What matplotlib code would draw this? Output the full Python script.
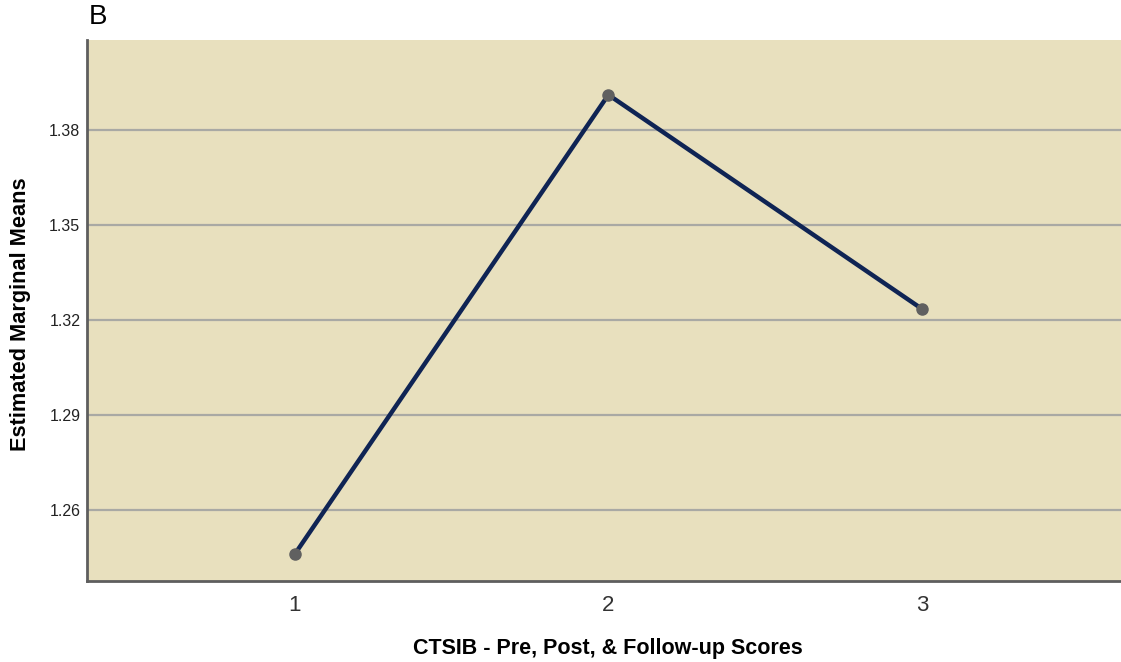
import numpy as np
import matplotlib.pyplot as plt

plt.rcParams['font.family'] = ['Liberation Sans', 'DejaVu Sans']

# estimated marginal means for the three CTSIB time points
timepoints = [1, 2, 3]
emm = [1.2461, 1.3911, 1.3235]
yticks = [1.26, 1.29, 1.32, 1.35, 1.38]

fig = plt.figure(figsize=(11.21, 6.62), dpi=100)
ax = fig.add_axes([0.0776, 0.1224, 0.9224, 0.8172])
ax.set_facecolor('#E8E0BE')

ax.set_yticks(yticks)
ax.set_yticklabels(['{:.2f}'.format(v) for v in yticks])
ax.set_ylim(1.2376, 1.4084)
ax.set_xticks(timepoints)
ax.set_xlim(0.337, 3.635)
ax.grid(axis='y', color='#A9A9A4', linewidth=1.6)
ax.set_axisbelow(True)

ax.plot(timepoints, emm, color='#0F2454', linewidth=3.2, zorder=3)
ax.plot(timepoints, emm, linestyle='none', marker='o', markersize=8,
        color='#606060', zorder=4)

for side in ['top', 'right']:
    ax.spines[side].set_visible(False)
for side in ['left', 'bottom']:
    ax.spines[side].set_color('#5E5E5E')
    ax.spines[side].set_linewidth(2)

ax.tick_params(axis='y', length=0, pad=4.8, labelsize=11.5, labelcolor='#222222')
ax.tick_params(axis='x', length=0, pad=10, labelsize=16, labelcolor='#333333')

ax.set_ylabel('Estimated Marginal Means', fontsize=15.7, fontweight='bold',
              va='center', ha='center')
ax.yaxis.set_label_coords(-0.0643, 0.4935)
ax.set_xlabel('CTSIB - Pre, Post, & Follow-up Scores', fontsize=15.5,
              fontweight='bold', va='center', ha='center')
ax.xaxis.set_label_coords(0.504, -0.125)

fig.text(0.079, 0.955, 'B', fontsize=20, ha='left', va='bottom')

plt.savefig('out.png', dpi=100)
